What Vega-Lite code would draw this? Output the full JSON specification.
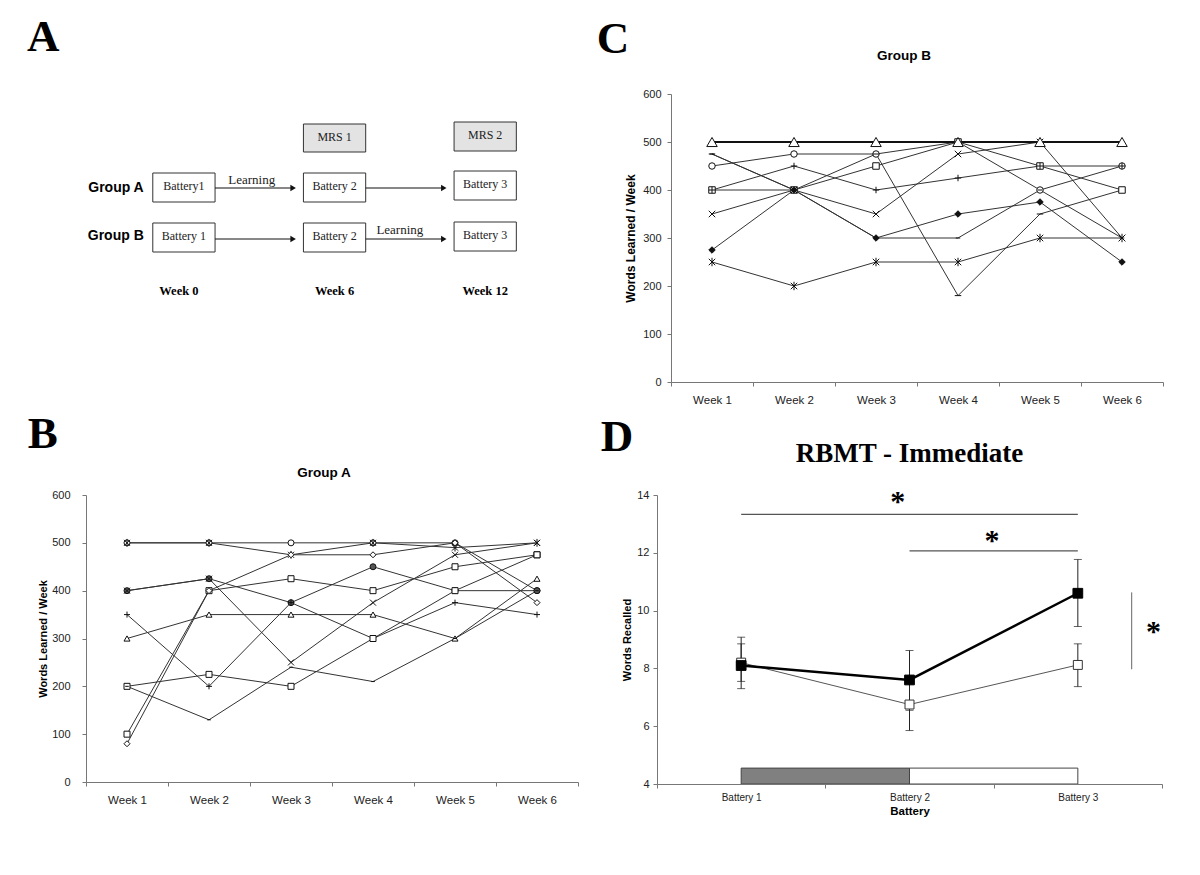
{
 "$schema": "https://vega.github.io/schema/vega-lite/v6.json",
 "background": "white",
 "padding": {"left": 27, "top": 15, "right": 5, "bottom": 5},
 "config": {
  "view": {"stroke": null},
  "font": "Liberation Sans",
  "axis": {"grid": false, "domainColor": "#777", "tickColor": "#777", "labelColor": "#222", "labelFont": "Liberation Sans", "labelFontSize": 11, "titleFont": "Liberation Sans", "titleFontSize": 11, "titleFontWeight": "bold", "titleColor": "#000", "tickSize": 4}
 },
 "resolve": {"scale": {"fill": "independent", "shape": "independent"}},
 "datasets": {
  "abox": [
   {"kind": "mrs", "x": 4.76, "x2": 7.24, "y": -0.28, "y2": 0.28},
   {"kind": "mrs", "x": 10.76, "x2": 13.24, "y": -0.32, "y2": 0.26},
   {"kind": "battery", "x": -1.24, "x2": 1.24, "y": 0.7, "y2": 1.28},
   {"kind": "battery", "x": 4.76, "x2": 7.24, "y": 0.7, "y2": 1.28},
   {"kind": "battery", "x": 10.76, "x2": 13.24, "y": 0.66, "y2": 1.24},
   {"kind": "battery", "x": -1.24, "x2": 1.24, "y": 1.7, "y2": 2.28},
   {"kind": "battery", "x": 4.76, "x2": 7.24, "y": 1.7, "y2": 2.28},
   {"kind": "battery", "x": 10.76, "x2": 13.24, "y": 1.68, "y2": 2.26}
  ],
  "atext": [
   {"kind": "box", "label": "MRS 1", "x": 6, "y": -0.02},
   {"kind": "box", "label": "MRS 2", "x": 12, "y": -0.06},
   {"kind": "box", "label": "Battery1", "x": 0, "y": 0.95},
   {"kind": "box", "label": "Battery 2", "x": 6, "y": 0.95},
   {"kind": "box", "label": "Battery 3", "x": 12, "y": 0.92},
   {"kind": "box", "label": "Battery 1", "x": 0, "y": 1.95},
   {"kind": "box", "label": "Battery 2", "x": 6, "y": 1.95},
   {"kind": "box", "label": "Battery 3", "x": 12, "y": 1.93},
   {"kind": "learn", "label": "Learning", "x": 2.7, "y": 0.84},
   {"kind": "learn", "label": "Learning", "x": 8.6, "y": 1.84},
   {"kind": "group", "label": "Group A", "x": -1.6, "y": 1.0},
   {"kind": "group", "label": "Group B", "x": -1.6, "y": 1.96},
   {"kind": "week", "label": "Week 0", "x": -0.2, "y": 3.05},
   {"kind": "week", "label": "Week 6", "x": 6, "y": 3.05},
   {"kind": "week", "label": "Week 12", "x": 12, "y": 3.05}
  ],
  "aarrow": [
   {"x": 1.24, "x2": 4.3, "y": 1.0},
   {"x": 7.24, "x2": 10.3, "y": 1.0},
   {"x": 1.24, "x2": 4.3, "y": 2.02},
   {"x": 7.24, "x2": 10.3, "y": 2.02}
  ],
  "ahead": [
   {"x": 4.35, "y": 1.0},
   {"x": 10.35, "y": 1.0},
   {"x": 4.35, "y": 2.02},
   {"x": 10.35, "y": 2.02}
  ],
  "groupA": [
   {"s": "A1", "w": "Week 1", "v": 500}, {"s": "A1", "w": "Week 2", "v": 500}, {"s": "A1", "w": "Week 3", "v": 500}, {"s": "A1", "w": "Week 4", "v": 500}, {"s": "A1", "w": "Week 5", "v": 500}, {"s": "A1", "w": "Week 6", "v": 400},
   {"s": "A2", "w": "Week 1", "v": 500}, {"s": "A2", "w": "Week 2", "v": 500}, {"s": "A2", "w": "Week 3", "v": 475}, {"s": "A2", "w": "Week 4", "v": 500}, {"s": "A2", "w": "Week 5", "v": 490}, {"s": "A2", "w": "Week 6", "v": 500},
   {"s": "A3", "w": "Week 1", "v": 400}, {"s": "A3", "w": "Week 2", "v": 425}, {"s": "A3", "w": "Week 3", "v": 375}, {"s": "A3", "w": "Week 4", "v": 450}, {"s": "A3", "w": "Week 5", "v": 400}, {"s": "A3", "w": "Week 6", "v": 400},
   {"s": "A4", "w": "Week 1", "v": 350}, {"s": "A4", "w": "Week 2", "v": 200}, {"s": "A4", "w": "Week 3", "v": 375}, {"s": "A4", "w": "Week 4", "v": 300}, {"s": "A4", "w": "Week 5", "v": 375}, {"s": "A4", "w": "Week 6", "v": 350},
   {"s": "A5", "w": "Week 1", "v": 300}, {"s": "A5", "w": "Week 2", "v": 350}, {"s": "A5", "w": "Week 3", "v": 350}, {"s": "A5", "w": "Week 4", "v": 350}, {"s": "A5", "w": "Week 5", "v": 300}, {"s": "A5", "w": "Week 6", "v": 425},
   {"s": "A6", "w": "Week 1", "v": 200}, {"s": "A6", "w": "Week 2", "v": 225}, {"s": "A6", "w": "Week 3", "v": 200}, {"s": "A6", "w": "Week 4", "v": 300}, {"s": "A6", "w": "Week 5", "v": 400}, {"s": "A6", "w": "Week 6", "v": 475},
   {"s": "A7", "w": "Week 1", "v": 200}, {"s": "A7", "w": "Week 2", "v": 130}, {"s": "A7", "w": "Week 3", "v": 240}, {"s": "A7", "w": "Week 4", "v": 210}, {"s": "A7", "w": "Week 5", "v": 300}, {"s": "A7", "w": "Week 6", "v": 400},
   {"s": "A8", "w": "Week 1", "v": 100}, {"s": "A8", "w": "Week 2", "v": 400}, {"s": "A8", "w": "Week 3", "v": 425}, {"s": "A8", "w": "Week 4", "v": 400}, {"s": "A8", "w": "Week 5", "v": 450}, {"s": "A8", "w": "Week 6", "v": 475},
   {"s": "A9", "w": "Week 1", "v": 80}, {"s": "A9", "w": "Week 2", "v": 400}, {"s": "A9", "w": "Week 3", "v": 475}, {"s": "A9", "w": "Week 4", "v": 475}, {"s": "A9", "w": "Week 5", "v": 500}, {"s": "A9", "w": "Week 6", "v": 375},
   {"s": "A10", "w": "Week 1", "v": 400}, {"s": "A10", "w": "Week 2", "v": 425}, {"s": "A10", "w": "Week 3", "v": 250}, {"s": "A10", "w": "Week 4", "v": 375}, {"s": "A10", "w": "Week 5", "v": 475}, {"s": "A10", "w": "Week 6", "v": 500}
  ],
  "groupB": [
   {"s": "B1", "w": "Week 1", "v": 500}, {"s": "B1", "w": "Week 2", "v": 500}, {"s": "B1", "w": "Week 3", "v": 500}, {"s": "B1", "w": "Week 4", "v": 500}, {"s": "B1", "w": "Week 5", "v": 500}, {"s": "B1", "w": "Week 6", "v": 500},
   {"s": "B2", "w": "Week 1", "v": 450}, {"s": "B2", "w": "Week 2", "v": 475}, {"s": "B2", "w": "Week 3", "v": 475}, {"s": "B2", "w": "Week 4", "v": 500}, {"s": "B2", "w": "Week 5", "v": 400}, {"s": "B2", "w": "Week 6", "v": 450},
   {"s": "B3", "w": "Week 1", "v": 475}, {"s": "B3", "w": "Week 2", "v": 400}, {"s": "B3", "w": "Week 3", "v": 475}, {"s": "B3", "w": "Week 4", "v": 180}, {"s": "B3", "w": "Week 5", "v": 350}, {"s": "B3", "w": "Week 6", "v": 400},
   {"s": "B4", "w": "Week 1", "v": 400}, {"s": "B4", "w": "Week 2", "v": 400}, {"s": "B4", "w": "Week 3", "v": 450}, {"s": "B4", "w": "Week 4", "v": 500}, {"s": "B4", "w": "Week 5", "v": 450}, {"s": "B4", "w": "Week 6", "v": 400},
   {"s": "B5", "w": "Week 1", "v": 400}, {"s": "B5", "w": "Week 2", "v": 450}, {"s": "B5", "w": "Week 3", "v": 400}, {"s": "B5", "w": "Week 4", "v": 425}, {"s": "B5", "w": "Week 5", "v": 450}, {"s": "B5", "w": "Week 6", "v": 450},
   {"s": "B6", "w": "Week 1", "v": 350}, {"s": "B6", "w": "Week 2", "v": 400}, {"s": "B6", "w": "Week 3", "v": 350}, {"s": "B6", "w": "Week 4", "v": 475}, {"s": "B6", "w": "Week 5", "v": 500}, {"s": "B6", "w": "Week 6", "v": 300},
   {"s": "B7", "w": "Week 1", "v": 275}, {"s": "B7", "w": "Week 2", "v": 400}, {"s": "B7", "w": "Week 3", "v": 300}, {"s": "B7", "w": "Week 4", "v": 350}, {"s": "B7", "w": "Week 5", "v": 375}, {"s": "B7", "w": "Week 6", "v": 250},
   {"s": "B8", "w": "Week 1", "v": 250}, {"s": "B8", "w": "Week 2", "v": 200}, {"s": "B8", "w": "Week 3", "v": 250}, {"s": "B8", "w": "Week 4", "v": 250}, {"s": "B8", "w": "Week 5", "v": 300}, {"s": "B8", "w": "Week 6", "v": 300},
   {"s": "B9", "w": "Week 1", "v": 475}, {"s": "B9", "w": "Week 2", "v": 400}, {"s": "B9", "w": "Week 3", "v": 300}, {"s": "B9", "w": "Week 4", "v": 300}, {"s": "B9", "w": "Week 5", "v": 400}, {"s": "B9", "w": "Week 6", "v": 300}
  ],
  "dbar": [
   {"shade": "dark", "b": "Battery 1", "b2": "Battery 2", "y": 4, "y2": 4.55},
   {"shade": "light", "b": "Battery 2", "b2": "Battery 3", "y": 4, "y2": 4.55}
  ],
  "dsig": [
   {"b": "Battery 1", "b2": "Battery 3", "y": 13.33},
   {"b": "Battery 2", "b2": "Battery 3", "y": 12.07}
  ],
  "dstar1": [{"b": "Battery 2", "y": 13.75, "t": "*"}],
  "dstar2": [{"b": "Battery 2", "y": 12.4, "t": "*"}],
  "dstar3": [{"b": "Battery 3", "y": 9.25, "t": "*"}],
  "dbracket": [{"b": "Battery 3", "y": 7.97, "y2": 10.63}],
  "dmean": [
   {"g": "open", "b": "Battery 1", "y": 8.2, "lo": 7.55, "hi": 8.85},
   {"g": "open", "b": "Battery 2", "y": 6.75, "lo": 5.85, "hi": 7.65},
   {"g": "open", "b": "Battery 3", "y": 8.12, "lo": 7.37, "hi": 8.85},
   {"g": "filled", "b": "Battery 1", "y": 8.1, "lo": 7.3, "hi": 9.08},
   {"g": "filled", "b": "Battery 2", "y": 7.6, "lo": 6.55, "hi": 8.62},
   {"g": "filled", "b": "Battery 3", "y": 10.6, "lo": 9.45, "hi": 11.77}
  ]
 },
 "spacing": 5,
 "vconcat": [
  {
   "spacing": 40,
   "resolve": {"scale": {"fill": "independent", "shape": "independent"}},
   "hconcat": [
    {
     "title": {"text": "A", "font": "Liberation Serif", "fontSize": 45, "fontWeight": "bold", "anchor": "start", "baseline": "alphabetic", "offset": -2, "dx": -59, "color": "#000"},
     "width": 470,
     "height": 250,
     "encoding": {
      "x": {"field": "x", "type": "quantitative", "scale": {"domain": [-3.9, 14.82], "nice": false, "zero": false}, "axis": null},
      "y": {"field": "y", "type": "quantitative", "scale": {"domain": [-0.88, 4.12], "nice": false, "zero": false, "reverse": true}, "axis": null}
     },
     "layer": [
      {
       "data": {"name": "abox"},
       "transform": [{"filter": "datum.kind === 'mrs'"}],
       "mark": {"type": "rect", "stroke": "#333", "strokeWidth": 1, "fill": "#e3e3e3"},
       "encoding": {"x2": {"field": "x2"}, "y2": {"field": "y2"}}
      },
      {
       "data": {"name": "abox"},
       "transform": [{"filter": "datum.kind === 'battery'"}],
       "mark": {"type": "rect", "stroke": "#333", "strokeWidth": 1, "fill": "#ffffff"},
       "encoding": {"x2": {"field": "x2"}, "y2": {"field": "y2"}}
      },
      {
       "data": {"name": "aarrow"},
       "mark": {"type": "rule", "color": "#111", "strokeWidth": 1},
       "encoding": {"x2": {"field": "x2"}}
      },
      {
       "data": {"name": "ahead"},
       "mark": {"type": "point", "shape": "triangle-right", "filled": true, "color": "#111", "size": 40, "opacity": 1},
       "encoding": {}
      },
      {
       "data": {"name": "atext"},
       "transform": [{"filter": "datum.kind === 'box'"}],
       "mark": {"type": "text", "font": "Liberation Serif", "fontSize": 12, "color": "#222"},
       "encoding": {"text": {"field": "label"}}
      },
      {
       "data": {"name": "atext"},
       "transform": [{"filter": "datum.kind === 'learn'"}],
       "mark": {"type": "text", "font": "Liberation Serif", "fontSize": 13, "color": "#222"},
       "encoding": {"text": {"field": "label"}}
      },
      {
       "data": {"name": "atext"},
       "transform": [{"filter": "datum.kind === 'group'"}],
       "mark": {"type": "text", "font": "Liberation Sans", "fontSize": 14, "fontWeight": "bold", "align": "right", "color": "#000"},
       "encoding": {"text": {"field": "label"}}
      },
      {
       "data": {"name": "atext"},
       "transform": [{"filter": "datum.kind === 'week'"}],
       "mark": {"type": "text", "font": "Liberation Serif", "fontSize": 12.5, "fontWeight": "bold", "color": "#000"},
       "encoding": {"text": {"field": "label"}}
      }
     ]
    },
    {
     "title": {"text": "C", "font": "Liberation Serif", "fontSize": 45, "fontWeight": "bold", "anchor": "start", "baseline": "alphabetic", "offset": -49, "dx": -28, "color": "#000"},
     "resolve": {"scale": {"fill": "independent", "shape": "independent"}},
     "vconcat": [
      {
       "width": 492,
       "height": 288,
       "title": {"text": "Group B", "font": "Liberation Sans", "fontSize": 13.5, "fontWeight": "bold", "baseline": "alphabetic", "offset": 15, "anchor": "middle", "frame": "group", "dx": -13, "color": "#000"},
       "data": {"name": "groupB"},
       "encoding": {
        "x": {"field": "w", "type": "ordinal", "scale": {"type": "band", "paddingInner": 0, "paddingOuter": 0}, "axis": {"title": null, "labelAngle": 0, "tickBand": "extent", "labelPadding": 8, "labelFontSize": 11.5}},
        "y": {"field": "v", "type": "quantitative", "scale": {"domain": [0, 600], "nice": false}, "axis": {"title": "Words Learned / Week", "values": [0, 100, 200, 300, 400, 500, 600], "labelPadding": 6, "titlePadding": 5, "titleFontSize": 12}}
       },
       "layer": [
        {"transform": [{"filter": "datum.s !== 'B1'"}], "mark": {"type": "line", "color": "#333", "strokeWidth": 1}, "encoding": {"detail": {"field": "s", "type": "nominal"}}},
        {"transform": [{"filter": "datum.s === 'B1'"}], "mark": {"type": "line", "color": "#111", "strokeWidth": 2}, "encoding": {}},
        {
         "transform": [{"filter": "datum.s !== 'B1'"}],
         "mark": {"type": "point", "filled": true, "stroke": "#111", "strokeWidth": 1, "opacity": 1, "size": 42},
         "encoding": {
          "shape": {"field": "s", "type": "nominal", "scale": {"domain": ["B2", "B3", "B4", "B5", "B6", "B7", "B8", "B9"], "range": ["circle", "M-1,0L1,0", "square", "M-1,0L1,0M0,-1L0,1", "M-1,-1L1,1M-1,1L1,-1", "diamond", "M-1,-1L1,1M-1,1L1,-1M0,-1.3L0,1.3", "M-0.7,0L0.7,0"]}, "legend": null},
          "fill": {"field": "s", "type": "nominal", "scale": {"domain": ["B2", "B3", "B4", "B5", "B6", "B7", "B8", "B9"], "range": ["#ffffff", "#ffffff", "#ffffff", "#ffffff", "#ffffff", "#111111", "#ffffff", "#ffffff"]}, "legend": null}
         }
        },
        {
         "transform": [{"filter": "datum.s === 'B1'"}],
         "mark": {"type": "point", "shape": "triangle-up", "filled": true, "fill": "#ffffff", "stroke": "#111", "strokeWidth": 1, "opacity": 1, "size": 110},
         "encoding": {}
        }
       ]
      }
     ]
    }
   ]
  },
  {
   "spacing": 21,
   "resolve": {"scale": {"fill": "independent", "shape": "independent"}},
   "hconcat": [
    {
     "title": {"text": "B", "font": "Liberation Serif", "fontSize": 45, "fontWeight": "bold", "anchor": "start", "baseline": "alphabetic", "offset": -27, "dx": -10, "color": "#000"},
     "resolve": {"scale": {"fill": "independent", "shape": "independent"}},
     "vconcat": [
      {
       "width": 492,
       "height": 287,
       "title": {"text": "Group A", "font": "Liberation Sans", "fontSize": 13.5, "fontWeight": "bold", "baseline": "alphabetic", "offset": -1, "anchor": "middle", "frame": "group", "dx": -8, "color": "#000"},
       "data": {"name": "groupA"},
       "encoding": {
        "x": {"field": "w", "type": "ordinal", "scale": {"type": "band", "paddingInner": 0, "paddingOuter": 0}, "axis": {"title": null, "labelAngle": 0, "tickBand": "extent", "labelPadding": 8, "labelFontSize": 11.5}},
        "y": {"field": "v", "type": "quantitative", "scale": {"domain": [0, 600], "nice": false}, "axis": {"title": "Words Learned / Week", "values": [0, 100, 200, 300, 400, 500, 600], "labelPadding": 12, "titlePadding": 3}}
       },
       "layer": [
        {"mark": {"type": "line", "color": "#333", "strokeWidth": 1}, "encoding": {"detail": {"field": "s", "type": "nominal"}}},
        {
         "mark": {"type": "point", "filled": true, "stroke": "#111", "strokeWidth": 1, "opacity": 1, "size": 36},
         "encoding": {
          "shape": {"field": "s", "type": "nominal", "scale": {"domain": ["A1", "A2", "A3", "A4", "A5", "A6", "A7", "A8", "A9", "A10"], "range": ["circle", "M-1,-1L1,1M-1,1L1,-1M0,-1.3L0,1.3", "circle", "M-1,0L1,0M0,-1L0,1", "triangle-up", "square", "M-0.6,0L0.6,0", "square", "diamond", "M-1,-1L1,1M-1,1L1,-1"]}, "legend": null},
          "fill": {"field": "s", "type": "nominal", "scale": {"domain": ["A1", "A2", "A3", "A4", "A5", "A6", "A7", "A8", "A9", "A10"], "range": ["#ffffff", "#ffffff", "#555555", "#ffffff", "#ffffff", "#ffffff", "#ffffff", "#ffffff", "#ffffff", "#ffffff"]}, "legend": null}
         }
        }
       ]
      }
     ]
    },
    {
     "title": {"text": "D", "font": "Liberation Serif", "fontSize": 45, "fontWeight": "bold", "anchor": "start", "baseline": "alphabetic", "offset": -56, "dx": -21, "color": "#000"},
     "vconcat": [
      {
       "width": 505,
       "height": 289,
       "title": {"text": "RBMT - Immediate", "font": "Liberation Serif", "fontSize": 27, "fontWeight": "bold", "baseline": "alphabetic", "offset": -2, "anchor": "middle", "frame": "group", "color": "#000"},
       "encoding": {
        "x": {"field": "b", "type": "nominal", "scale": {"type": "band", "domain": ["Battery 1", "Battery 2", "Battery 3"], "paddingInner": 0, "paddingOuter": 0}, "axis": {"title": "Battery", "labelAngle": 0, "tickBand": "extent", "labelFontSize": 10, "labelPadding": 4, "titleFontSize": 11.5, "titlePadding": 3}},
        "y": {"field": "y", "type": "quantitative", "scale": {"domain": [4, 14], "nice": false, "zero": false}, "axis": {"title": "Words Recalled", "values": [4, 6, 8, 10, 12, 14], "labelPadding": 4, "titlePadding": 4}}
       },
       "layer": [
        {
         "data": {"name": "dbar"},
         "transform": [{"filter": "datum.shade === 'dark'"}],
         "mark": {"type": "rect", "stroke": "#444", "strokeWidth": 1, "fill": "#808080"},
         "encoding": {
          "x": {"field": "b", "type": "nominal", "bandPosition": 0.5},
          "x2": {"field": "b2", "bandPosition": 0.5},
          "y2": {"field": "y2"}
         }
        },
        {
         "data": {"name": "dbar"},
         "transform": [{"filter": "datum.shade === 'light'"}],
         "mark": {"type": "rect", "stroke": "#444", "strokeWidth": 1, "fill": "#ffffff"},
         "encoding": {
          "x": {"field": "b", "type": "nominal", "bandPosition": 0.5},
          "x2": {"field": "b2", "bandPosition": 0.5},
          "y2": {"field": "y2"}
         }
        },
        {
         "data": {"name": "dsig"},
         "mark": {"type": "rule", "color": "#555", "strokeWidth": 1.3},
         "encoding": {
          "x": {"field": "b", "type": "nominal", "bandPosition": 0.5},
          "x2": {"field": "b2", "bandPosition": 0.5}
         }
        },
        {
         "data": {"name": "dstar1"},
         "mark": {"type": "text", "font": "Liberation Serif", "fontSize": 30, "fontWeight": "bold", "baseline": "middle", "color": "#000"},
         "encoding": {"x": {"field": "b", "type": "nominal", "bandPosition": 0.43}, "text": {"field": "t"}}
        },
        {
         "data": {"name": "dstar2"},
         "mark": {"type": "text", "font": "Liberation Serif", "fontSize": 30, "fontWeight": "bold", "baseline": "middle", "color": "#000"},
         "encoding": {"x": {"field": "b", "type": "nominal", "bandPosition": 0.99}, "text": {"field": "t"}}
        },
        {
         "data": {"name": "dstar3"},
         "mark": {"type": "text", "font": "Liberation Serif", "fontSize": 30, "fontWeight": "bold", "baseline": "middle", "color": "#000"},
         "encoding": {"x": {"field": "b", "type": "nominal", "bandPosition": 0.95}, "text": {"field": "t"}}
        },
        {
         "data": {"name": "dbracket"},
         "mark": {"type": "rule", "color": "#666", "strokeWidth": 1},
         "encoding": {"x": {"field": "b", "type": "nominal", "bandPosition": 0.82}, "y2": {"field": "y2"}}
        },
        {
         "data": {"name": "dmean"},
         "mark": {"type": "errorbar", "ticks": {"size": 8}, "color": "#222", "thickness": 1},
         "encoding": {"y": {"field": "lo", "type": "quantitative", "axis": {"title": "Words Recalled"}}, "y2": {"field": "hi"}}
        },
        {
         "data": {"name": "dmean"},
         "transform": [{"filter": "datum.g === 'open'"}],
         "mark": {"type": "line", "color": "#555", "strokeWidth": 1},
         "encoding": {}
        },
        {
         "data": {"name": "dmean"},
         "transform": [{"filter": "datum.g === 'filled'"}],
         "mark": {"type": "line", "color": "#000", "strokeWidth": 2.5},
         "encoding": {}
        },
        {
         "data": {"name": "dmean"},
         "transform": [{"filter": "datum.g === 'open'"}],
         "mark": {"type": "point", "shape": "square", "filled": true, "fill": "#ffffff", "stroke": "#333", "strokeWidth": 1, "size": 80, "opacity": 1},
         "encoding": {}
        },
        {
         "data": {"name": "dmean"},
         "transform": [{"filter": "datum.g === 'filled'"}],
         "mark": {"type": "point", "shape": "square", "filled": true, "fill": "#000000", "stroke": "#000", "strokeWidth": 1, "size": 95, "opacity": 1},
         "encoding": {}
        }
       ]
      }
     ]
    }
   ]
  }
 ]
}
